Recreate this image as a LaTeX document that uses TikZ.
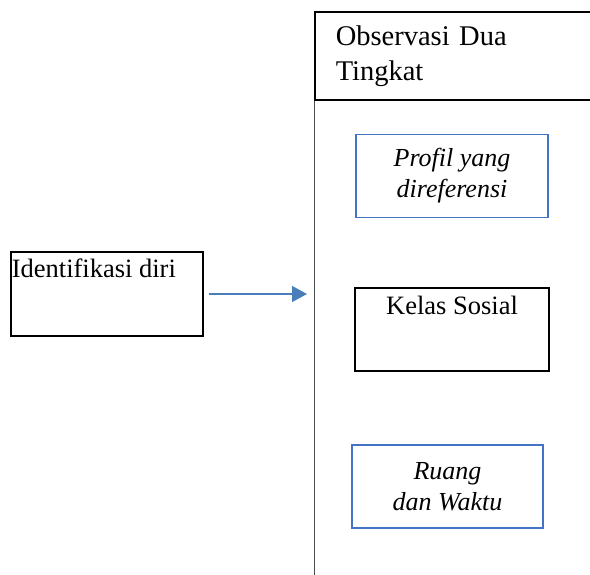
\documentclass[tikz,border=0pt]{standalone}
\usepackage{fontspec}
\setmainfont{Liberation Serif}
\usetikzlibrary{arrows.meta}
\definecolor{boxblue}{HTML}{4472C4}
\definecolor{linkblue}{HTML}{4A7EBB}

\begin{document}
\begin{tikzpicture}
	[x=1pt, y=-1pt,
	every node/.style={font=\fontsize{26.5}{35}\selectfont},
	blackbox/.style={draw=black, line width=1.8pt, inner sep=0pt, minimum width=192pt, minimum height=84pt},
	bluebox/.style={draw=boxblue, line width=1.8pt, inner sep=0pt, minimum width=192pt, minimum height=83pt, align=center, font=\fontsize{26}{31}\selectfont\itshape}]
	
	\useasboundingbox (0,0) rectangle (590,574);
	
	\node[draw=black, line width=1.5pt, anchor=north west, minimum width=280pt, minimum height=88pt, inner xsep=20pt, text width=238pt, align=left, font=\fontsize{28.5}{35}\selectfont] (obs) at (314,11) {Observasi Dua\\Tingkat};
	\coordinate (sidebottom) at (314,576);
	\draw[black!70, line width=1pt] (obs.south west) -- (sidebottom);
	
	\node[blackbox, label={[anchor=north west, inner xsep=1.5pt, inner ysep=7.5pt]north west:Identifikasi diri}] (ident) at (107,294) {};
	
	\node[bluebox] (profil) at (452,176) {Profil yang\\direferensi};
	\node[blackbox, minimum width=194pt, minimum height=83pt, label={[anchor=north, inner sep=9pt]north:Kelas Sosial}] (kelas) at (452,329.5) {};
	\node[bluebox, minimum width=191pt] (ruang) at (447.5,486.5) {Ruang\\dan Waktu};
	
	\coordinate (arrowend) at (314,294);
	\draw[linkblue, line width=1.3pt, -{Triangle[length=15pt, width=16pt]}, shorten <=5pt, shorten >=7pt] (ident.east) -- (arrowend);
\end{tikzpicture}
\end{document}
